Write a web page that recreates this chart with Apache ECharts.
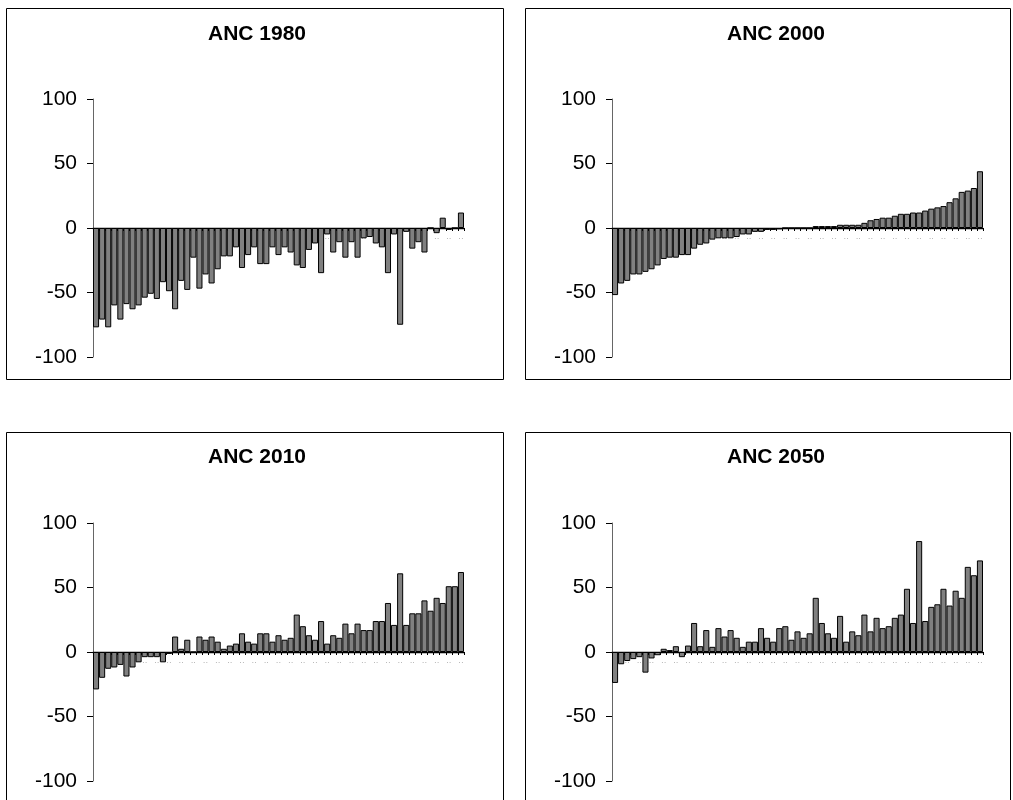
<!DOCTYPE html>
<html>
<head>
<meta charset="utf-8">
<title>ANC</title>
<script src="https://cdn.jsdelivr.net/npm/echarts@6/dist/echarts.min.js"></script>
<style>
html, body { margin: 0; padding: 0; background: #fff; }
#chart { width: 1013px; height: 800px; }
</style>
</head>
<body>
<div id="chart"></div>
<script>
// 四个年份的 ANC 值（每个站点一根柱）
var anc1980 = [-77, -71, -77, -60, -71, -59, -63, -60, -54, -51, -55, -42, -49, -63, -41, -48, -23, -47, -36, -43,
    -32, -22, -22, -15, -31, -21, -15, -28, -28, -15, -21, -15, -19, -29, -31, -17, -12, -35, -5, -19,
    -11, -23, -11, -23, -8, -7, -12, -15, -35, -5, -75, -3, -16, -11, -19, 0, -4, 8, -1.5, 0, 12];
var anc2000 = [-52, -43, -41, -36, -36, -34, -32, -29, -24, -23, -23, -21, -21, -16, -13, -12, -9, -8, -8, -8,
    -7, -5, -5, -3, -3, -1.5, -1.5, -1, 0, 0, 0, 0, 0, 1.5, 1.5, 1.5, 1.5, 2.5, 2.5, 2.5,
    2.5, 4, 6, 7, 8, 8, 9.5, 11, 11, 12, 12, 13.5, 15, 16, 17, 20, 23, 28, 29, 31, 44];
var anc2010 = [-29, -20, -13, -12, -10, -19, -12, -8, -4, -4, -4, -8, -1.5, 12, 2.5, 9.5, 0, 12, 9.5, 12,
    8, 2.5, 5, 6.5, 14.5, 8, 6.5, 14.5, 14.5, 8, 13, 9.5, 11, 29, 20, 13, 9.5, 24, 6.5, 13,
    11, 22, 14.5, 22, 17, 17, 24, 24, 38, 21, 61, 21, 30, 30, 40, 32, 42, 38, 51, 51, 62];
var anc2050 = [-24, -9.5, -7, -5.5, -4, -16, -5, -2.5, 2.5, 1.5, 4.5, -4, 5, 22.5, 4.5, 17, 4, 18.5, 12, 17,
    11, 4, 8, 8, 18.5, 11, 8, 18.5, 20, 9.5, 16, 11, 14.5, 42, 22.5, 14.5, 11, 28, 8, 16,
    13, 29, 16, 26.5, 18.5, 20, 26.5, 29, 49, 22.5, 86, 24, 35, 37, 49, 36, 47.5, 42, 66, 59.5, 71];

var titles = ['ANC 1980', 'ANC 2000', 'ANC 2010', 'ANC 2050'];
var yTicks = [-100, -50, 0, 50, 100];

// 站点编号
var sites = [];
for (var i = 1; i <= anc1980.length; i++) sites.push(String(i));

var seriesData = [anc1980, anc2000, anc2010, anc2050];

// 面板位置
var GRID_W = 371, GRID_H = 258;
var panels = [
    { gridLeft: 93, gridTop: 99, titleX: 257, titleTop: 24, box: [6.5, 8.5, 497, 371] },
    { gridLeft: 612, gridTop: 99, titleX: 776, titleTop: 24, box: [525.5, 8.5, 485, 371] },
    { gridLeft: 93, gridTop: 523, titleX: 257, titleTop: 447, box: [6.5, 432.5, 497, 400] },
    { gridLeft: 612, gridTop: 523, titleX: 776, titleTop: 447, box: [525.5, 432.5, 485, 400] }
];

var fontFamily = '"Liberation Sans", Arial, sans-serif';

var option = {
    animation: false,
    backgroundColor: '#fff',
    title: [],
    grid: [],
    xAxis: [],
    yAxis: [],
    series: [],
    graphic: []
};

panels.forEach(function(p, idx) {
    option.title.push({
        text: titles[idx],
        left: p.titleX,
        top: p.titleTop,
        textAlign: 'center',
        padding: 0,
        textStyle: { fontFamily: fontFamily, fontSize: 21, fontWeight: 'bold', color: '#000' }
    });
    option.grid.push({
        left: p.gridLeft,
        top: p.gridTop,
        width: GRID_W,
        height: GRID_H,
        containLabel: false,
        outerBoundsMode: 'none'
    });
    // 类别轴放在 0 处（-100..100 的中间）
    option.xAxis.push({
        type: 'category',
        gridIndex: idx,
        data: sites,
        offset: -GRID_H / 2,
        axisLine: { onZero: false, lineStyle: { color: '#000', width: 1.3 } },
        axisTick: { show: true, interval: 0, length: 3, lineStyle: { color: '#000' } },
        axisLabel: {
            show: true,
            interval: 1,
            margin: 7,
            fontSize: 8,
            hideOverlap: false,
            color: '#a8a8a8',
            formatter: function() { return '··'; }
        },
        splitLine: { show: false }
    });
    option.yAxis.push({
        type: 'value',
        gridIndex: idx,
        min: yTicks[0],
        max: yTicks[yTicks.length - 1],
        interval: 50,
        axisLine: { show: true, lineStyle: { color: '#666', width: 1 } },
        axisTick: { show: true, inside: false, length: 6, lineStyle: { color: '#000' } },
        axisLabel: {
            margin: 16,
            fontFamily: fontFamily,
            fontSize: 21,
            color: '#000'
        },
        splitLine: { show: false }
    });
    option.series.push({
        type: 'bar',
        name: titles[idx],
        xAxisIndex: idx,
        yAxisIndex: idx,
        data: seriesData[idx],
        barCategoryGap: '0%',
        itemStyle: { color: '#808080', borderColor: '#000', borderWidth: 1 }
    });
    option.graphic.push({
        type: 'rect',
        silent: true,
        shape: { x: p.box[0], y: p.box[1], width: p.box[2], height: p.box[3] },
        style: { fill: 'none', stroke: '#000', lineWidth: 1 }
    });
});

var chart = echarts.init(document.getElementById('chart'), null, { renderer: 'canvas' });
chart.setOption(option);
</script>
</body>
</html>
